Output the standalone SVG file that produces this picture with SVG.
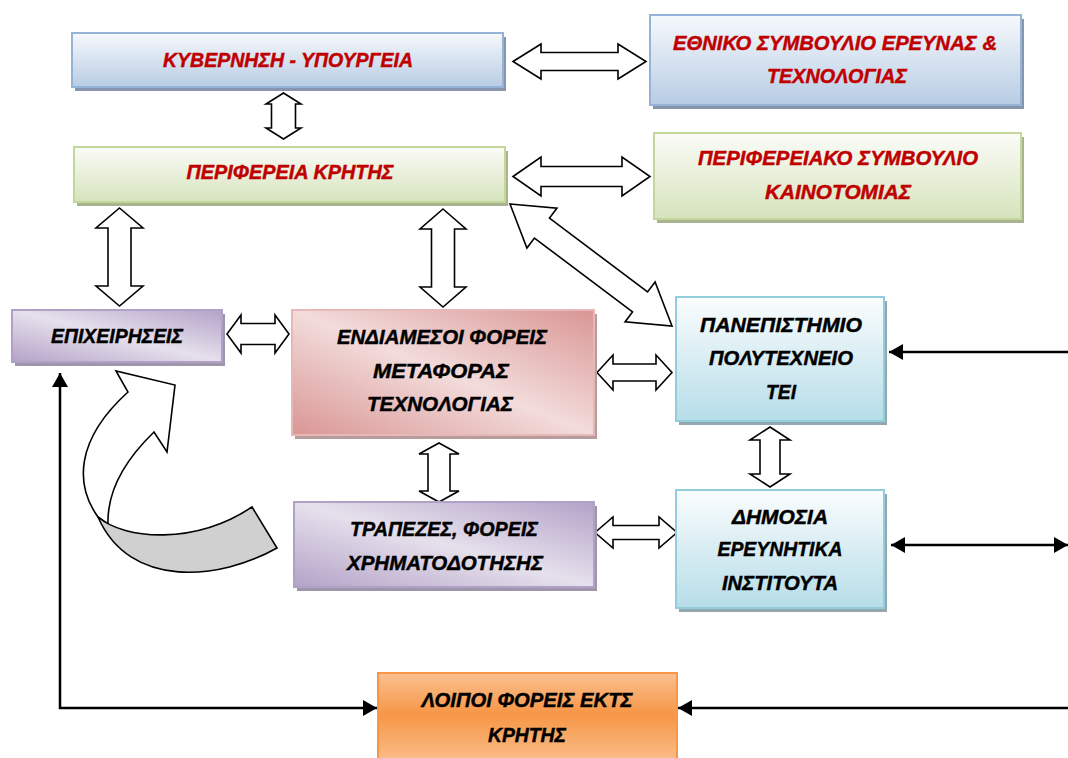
<svg xmlns="http://www.w3.org/2000/svg" width="1068" height="758" viewBox="0 0 1068 758">
<style>
.t{font-family:"Liberation Sans",Arial,sans-serif;font-weight:bold;font-style:italic;font-size:21px;text-anchor:middle;stroke-width:0.45px}
.red{fill:#c00000;stroke:#c00000}
.blk{fill:#000;stroke:#000}
.blk-arrow{fill:#fff;stroke:#000;stroke-width:1.6;stroke-linejoin:miter}
.line{fill:none;stroke:#000;stroke-width:2.5}
</style>
<defs>
<linearGradient id="gBlue" x1="0" y1="0" x2="0" y2="1"><stop offset="0" stop-color="#f6f9fc"/><stop offset="1" stop-color="#b8cce4"/></linearGradient>
<linearGradient id="gGreen" x1="0" y1="0" x2="0" y2="1"><stop offset="0" stop-color="#fbfcf8"/><stop offset="1" stop-color="#d6e3bc"/></linearGradient>
<linearGradient id="gCyan" x1="0" y1="0" x2="0" y2="1"><stop offset="0" stop-color="#fbfdfe"/><stop offset="1" stop-color="#b6dde8"/></linearGradient>
<linearGradient id="gPurple" x1="1" y1="0" x2="0" y2="1"><stop offset="0" stop-color="#b3a2c7"/><stop offset="0.5" stop-color="#e6e0ec"/><stop offset="1" stop-color="#b3a2c7"/></linearGradient>
<linearGradient id="gPink" x1="1" y1="0" x2="0" y2="1"><stop offset="0" stop-color="#d99694"/><stop offset="0.5" stop-color="#f2dcdb"/><stop offset="1" stop-color="#d99694"/></linearGradient>
<linearGradient id="gOrange" x1="0" y1="0" x2="0" y2="1"><stop offset="0" stop-color="#fac090"/><stop offset="0.45" stop-color="#f79646"/><stop offset="1" stop-color="#fac090"/></linearGradient>
<marker id="ah" viewBox="0 0 14 16" refX="14" refY="8" markerWidth="14" markerHeight="16" markerUnits="userSpaceOnUse" orient="auto-start-reverse"><path d="M0,0 L14,8 L0,16 Z" fill="#000"/></marker>
</defs>
<rect width="1068" height="758" fill="#fff"/>

<g id="connectors">
  <polygon class="blk-arrow" points="513,61.5 541,44 541,52.5 618,52.5 618,44 646,61.5 618,79 618,70.5 541,70.5 541,79"/>
  <polygon class="blk-arrow" points="513,176.5 541,157 541,166.5 622,166.5 622,157 650,176.5 622,196 622,186.5 541,186.5 541,196"/>
  <polygon class="blk-arrow" points="283.5,93 301,104 295.5,104 295.5,128 301,128 283.5,139 266,128 271.5,128 271.5,104 266,104"/>
  <polygon class="blk-arrow" points="119.5,208 143,228 131,228 131,286 143,286 119.5,306 96,286 108,286 108,228 96,228"/>
  <polygon class="blk-arrow" points="443,209 466,229 454.5,229 454.5,287 466,287 443,307 420,287 431.5,287 431.5,229 420,229"/>
  <polygon class="blk-arrow" points="227,334 241,315 241,323.5 275,323.5 275,315 289,334 275,353 275,344.5 241,344.5 241,353"/>
  <polygon class="blk-arrow" points="597,372.5 613,355 613,364 656,364 656,355 672,372.5 656,390 656,381 613,381 613,390"/>
  <polygon class="blk-arrow" points="439,443 459,454 450,454 450,491 459,491 439,502 419,491 428,491 428,454 419,454"/>
  <polygon class="blk-arrow" points="770,427 790,440 780,440 780,474 790,474 770,487 750,474 760,474 760,440 750,440"/>
  <polygon class="blk-arrow" points="595,532.5 613,517 613,525.5 659,525.5 659,517 677,532.5 659,548 659,539.5 613,539.5 613,548"/>
  <polygon class="blk-arrow" transform="translate(510,204) rotate(36.98)" points="0,0 40,-25 40,-12.5 162.8,-12.5 162.8,-25 202.8,0 162.8,25 162.8,12.5 40,12.5 40,25"/>
  <path class="line" d="M1068,352 L889,352" marker-end="url(#ah)"/>
  <path class="line" d="M891,545 L1068,545" marker-start="url(#ah)" marker-end="url(#ah)"/>
  <path class="line" d="M1068,708 L678,708" marker-end="url(#ah)"/>
  <path class="line" d="M60,373 L60,708 L377,708" marker-start="url(#ah)" marker-end="url(#ah)"/>
  <path d="M98,517 C75,485 75,440 128,392 L116,371 L175,385 L167,452 L154,432 C125,460 107,490 108,524 Z" fill="#fff" stroke="#000" stroke-width="1.6" stroke-linejoin="miter"/>
  <path d="M98,517 C125,540 195,545 252,507 L277,548 C220,580 130,590 98,517 Z" fill="#d0d0d0" stroke="#000" stroke-width="1.6"/>
</g>

<g id="n-kyvernisi">
  <rect x="75" y="37" width="431" height="54" fill="#8796ad"/>
  <rect x="72" y="33" width="431" height="54" fill="url(#gBlue)" stroke="#95b3d7" stroke-width="2"/>
  <text class="t red" x="288" y="67" textLength="250" lengthAdjust="spacingAndGlyphs">ΚΥΒΕΡΝΗΣΗ - ΥΠΟΥΡΓΕΙΑ</text>
</g>
<g id="n-ethniko">
  <rect x="653" y="19" width="371" height="90" fill="#8796ad"/>
  <rect x="650" y="15" width="371" height="90" fill="url(#gBlue)" stroke="#95b3d7" stroke-width="2"/>
  <text class="t red" x="835" y="50" textLength="324" lengthAdjust="spacingAndGlyphs">ΕΘΝΙΚΟ ΣΥΜΒΟΥΛΙΟ ΕΡΕΥΝΑΣ &amp;</text>
  <text class="t red" x="837" y="83" textLength="140" lengthAdjust="spacingAndGlyphs">ΤΕΧΝΟΛΟΓΙΑΣ</text>
</g>
<g id="n-perifereia">
  <rect x="77" y="151" width="431" height="55" fill="#a7b48f"/>
  <rect x="74" y="147" width="431" height="55" fill="url(#gGreen)" stroke="#c3d69b" stroke-width="2"/>
  <text class="t red" x="290" y="179" textLength="207" lengthAdjust="spacingAndGlyphs">ΠΕΡΙΦΕΡΕΙΑ ΚΡΗΤΗΣ</text>
</g>
<g id="n-perifereiako">
  <rect x="657" y="137" width="367" height="86" fill="#a7b48f"/>
  <rect x="654" y="133" width="367" height="86" fill="url(#gGreen)" stroke="#c3d69b" stroke-width="2"/>
  <text class="t red" x="838" y="165" textLength="280" lengthAdjust="spacingAndGlyphs">ΠΕΡΙΦΕΡΕΙΑΚΟ ΣΥΜΒΟΥΛΙΟ</text>
  <text class="t red" x="838" y="199" textLength="146" lengthAdjust="spacingAndGlyphs">ΚΑΙΝΟΤΟΜΙΑΣ</text>
</g>
<g id="n-epixeiriseis">
  <rect x="15" y="314" width="210" height="52" fill="#a096ab"/>
  <rect x="12" y="310" width="210" height="52" fill="url(#gPurple)" stroke="#b2a1c7" stroke-width="2"/>
  <text class="t blk" x="117" y="343" textLength="132" lengthAdjust="spacingAndGlyphs">ΕΠΙΧΕΙΡΗΣΕΙΣ</text>
</g>
<g id="n-endiamesoi">
  <rect x="295" y="314" width="302" height="125" fill="#b89c9b"/>
  <rect x="292" y="310" width="302" height="125" fill="url(#gPink)" stroke="#e6b9b8" stroke-width="2"/>
  <text class="t blk" x="442" y="344" textLength="210" lengthAdjust="spacingAndGlyphs">ΕΝΔΙΑΜΕΣΟΙ ΦΟΡΕΙΣ</text>
  <text class="t blk" x="441" y="378" textLength="136" lengthAdjust="spacingAndGlyphs">ΜΕΤΑΦΟΡΑΣ</text>
  <text class="t blk" x="440" y="411" textLength="146" lengthAdjust="spacingAndGlyphs">ΤΕΧΝΟΛΟΓΙΑΣ</text>
</g>
<g id="n-panepistimio">
  <rect x="679" y="301" width="208" height="124" fill="#92a8ae"/>
  <rect x="676" y="297" width="208" height="124" fill="url(#gCyan)" stroke="#92cddc" stroke-width="2"/>
  <text class="t blk" x="781" y="332" textLength="162" lengthAdjust="spacingAndGlyphs">ΠΑΝΕΠΙΣΤΗΜΙΟ</text>
  <text class="t blk" x="781" y="365" textLength="144" lengthAdjust="spacingAndGlyphs">ΠΟΛΥΤΕΧΝΕΙΟ</text>
  <text class="t blk" x="781" y="399" textLength="30" lengthAdjust="spacingAndGlyphs">ΤΕΙ</text>
</g>
<g id="n-trapezes">
  <rect x="297" y="506" width="300" height="85" fill="#a096ab"/>
  <rect x="294" y="502" width="300" height="85" fill="url(#gPurple)" stroke="#b2a1c7" stroke-width="2"/>
  <text class="t blk" x="444" y="536" textLength="188" lengthAdjust="spacingAndGlyphs">ΤΡΑΠΕΖΕΣ, ΦΟΡΕΙΣ</text>
  <text class="t blk" x="445" y="570" textLength="196" lengthAdjust="spacingAndGlyphs">ΧΡΗΜΑΤΟΔΟΤΗΣΗΣ</text>
</g>
<g id="n-dimosia">
  <rect x="679" y="494" width="208" height="118" fill="#92a8ae"/>
  <rect x="676" y="490" width="208" height="118" fill="url(#gCyan)" stroke="#92cddc" stroke-width="2"/>
  <text class="t blk" x="780" y="524" textLength="96" lengthAdjust="spacingAndGlyphs">ΔΗΜΟΣΙΑ</text>
  <text class="t blk" x="780" y="556" textLength="125" lengthAdjust="spacingAndGlyphs">ΕΡΕΥΝΗΤΙΚΑ</text>
  <text class="t blk" x="780" y="590" textLength="116" lengthAdjust="spacingAndGlyphs">ΙΝΣΤΙΤΟΥΤΑ</text>
</g>
<g id="n-loipoi">
  <rect x="378" y="673" width="299" height="92" fill="url(#gOrange)" stroke="#f79646" stroke-width="2"/>
  <text class="t blk" x="527" y="707" textLength="211" lengthAdjust="spacingAndGlyphs">ΛΟΙΠΟΙ ΦΟΡΕΙΣ ΕΚΤΣ</text>
  <text class="t blk" x="527" y="742" textLength="78" lengthAdjust="spacingAndGlyphs">ΚΡΗΤΗΣ</text>
</g>
</svg>
